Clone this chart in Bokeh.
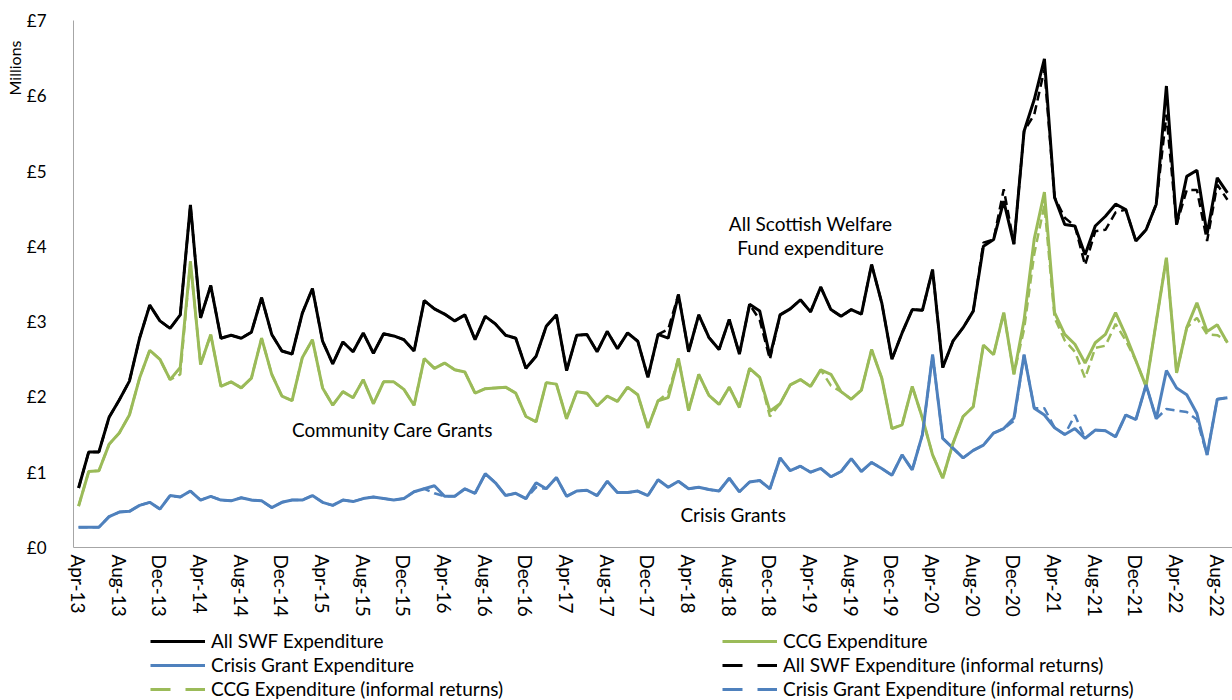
from bokeh.plotting import figure
from bokeh.layouts import column
from bokeh.models import FixedTicker, Legend, LegendItem, Label, Title
from bokeh.embed import file_html
from bokeh.resources import INLINE

# ---------------- data (£ millions, monthly Apr-13 .. Sep-22) ----------------
tick_labels = ["Apr-13", "Aug-13", "Dec-13", "Apr-14", "Aug-14", "Dec-14", "Apr-15", "Aug-15",
               "Dec-15", "Apr-16", "Aug-16", "Dec-16", "Apr-17", "Aug-17", "Dec-17", "Apr-18",
               "Aug-18", "Dec-18", "Apr-19", "Aug-19", "Dec-19", "Apr-20", "Aug-20", "Dec-20",
               "Apr-21", "Aug-21", "Dec-21", "Apr-22", "Aug-22"]
y_tick_labels = ["£0", "£1", "£2", "£3", "£4", "£5", "£6", "£7"]

all_swf = [0.79, 1.27, 1.27, 1.73, 1.96, 2.21, 2.78, 3.22, 3.01, 2.91,
           3.09, 4.55, 3.05, 3.48, 2.78, 2.82, 2.78, 2.86, 3.32, 2.83,
           2.61, 2.57, 3.11, 3.44, 2.74, 2.44, 2.73, 2.60, 2.85, 2.58,
           2.84, 2.81, 2.76, 2.61, 3.28, 3.17, 3.10, 3.01, 3.09, 2.76,
           3.07, 2.97, 2.82, 2.78, 2.38, 2.54, 2.94, 3.09, 2.35, 2.82,
           2.83, 2.60, 2.87, 2.64, 2.85, 2.74, 2.26, 2.83, 2.78, 3.36,
           2.60, 3.09, 2.79, 2.63, 3.03, 2.57, 3.23, 3.14, 2.54, 3.09,
           3.17, 3.29, 3.13, 3.46, 3.16, 3.07, 3.16, 3.10, 3.76, 3.25,
           2.50, 2.85, 3.16, 3.15, 3.69, 2.39, 2.74, 2.92, 3.14, 4.00,
           4.09, 4.60, 4.03, 5.53, 5.95, 6.49, 4.65, 4.29, 4.27, 3.89,
           4.27, 4.40, 4.56, 4.49, 4.07, 4.22, 4.56, 6.13, 4.29, 4.93,
           5.01, 4.16, 4.91, 4.71]

ccg = [0.55, 1.01, 1.02, 1.37, 1.52, 1.76, 2.25, 2.62, 2.50, 2.23,
       2.39, 3.80, 2.43, 2.83, 2.14, 2.20, 2.12, 2.25, 2.78, 2.30,
       2.01, 1.95, 2.52, 2.76, 2.12, 1.89, 2.07, 1.99, 2.23, 1.91,
       2.20, 2.20, 2.10, 1.89, 2.51, 2.38, 2.45, 2.36, 2.33, 2.05,
       2.11, 2.12, 2.13, 2.05, 1.74, 1.67, 2.19, 2.17, 1.71, 2.07,
       2.05, 1.88, 2.01, 1.94, 2.13, 2.03, 1.59, 1.95, 1.99, 2.51,
       1.82, 2.30, 2.02, 1.90, 2.13, 1.86, 2.38, 2.26, 1.81, 1.91,
       2.16, 2.23, 2.14, 2.36, 2.30, 2.07, 1.97, 2.09, 2.63, 2.25,
       1.58, 1.63, 2.14, 1.72, 1.23, 0.92, 1.38, 1.74, 1.87, 2.69,
       2.56, 3.12, 2.30, 3.02, 4.10, 4.72, 3.12, 2.83, 2.70, 2.45,
       2.72, 2.83, 3.12, 2.82, 2.48, 2.14, 3.00, 3.85, 2.32, 2.92,
       3.25, 2.87, 2.96, 2.72]

crisis = [0.27, 0.27, 0.27, 0.41, 0.47, 0.48, 0.56, 0.60, 0.51, 0.69,
          0.67, 0.75, 0.63, 0.68, 0.63, 0.62, 0.66, 0.63, 0.62, 0.53,
          0.60, 0.63, 0.63, 0.69, 0.60, 0.56, 0.63, 0.61, 0.65, 0.67,
          0.65, 0.63, 0.65, 0.74, 0.78, 0.82, 0.68, 0.68, 0.78, 0.72,
          0.98, 0.86, 0.69, 0.72, 0.65, 0.86, 0.78, 0.93, 0.68, 0.75,
          0.76, 0.69, 0.88, 0.73, 0.73, 0.75, 0.69, 0.90, 0.80, 0.88,
          0.78, 0.80, 0.77, 0.75, 0.92, 0.74, 0.87, 0.89, 0.78, 1.19,
          1.02, 1.08, 1.00, 1.05, 0.94, 1.01, 1.18, 1.01, 1.13, 1.05,
          0.96, 1.23, 1.03, 1.50, 2.56, 1.45, 1.32, 1.19, 1.29, 1.36,
          1.52, 1.58, 1.72, 2.56, 1.85, 1.76, 1.59, 1.50, 1.58, 1.45,
          1.56, 1.55, 1.47, 1.76, 1.70, 2.16, 1.71, 2.35, 2.12, 2.03,
          1.78, 1.23, 1.97, 1.99]

all_swf_inf = [0.79, 1.27, 1.27, 1.73, 1.96, 2.21, 2.78, 3.22, 3.01, 2.91,
               3.09, 4.55, 3.05, 3.48, 2.78, 2.82, 2.78, 2.86, 3.32, 2.83,
               2.61, 2.57, 3.11, 3.44, 2.74, 2.44, 2.73, 2.60, 2.85, 2.58,
               2.84, 2.81, 2.76, 2.61, 3.28, 3.17, 3.10, 3.01, 3.09, 2.76,
               3.07, 2.97, 2.82, 2.78, 2.38, 2.54, 2.94, 3.09, 2.35, 2.82,
               2.83, 2.60, 2.87, 2.64, 2.85, 2.74, 2.26, 2.83, 2.90, 3.36,
               2.60, 3.09, 2.79, 2.63, 3.03, 2.57, 3.23, 3.02, 2.50, 3.09,
               3.17, 3.29, 3.13, 3.46, 3.16, 3.07, 3.16, 3.10, 3.76, 3.25,
               2.50, 2.85, 3.16, 3.15, 3.69, 2.39, 2.74, 2.92, 3.14, 4.05,
               4.09, 4.76, 4.03, 5.53, 5.75, 6.35, 4.65, 4.38, 4.27, 3.75,
               4.20, 4.22, 4.45, 4.49, 4.07, 4.22, 4.56, 5.75, 4.29, 4.75,
               4.75, 4.07, 4.82, 4.62]

ccg_inf = [0.55, 1.01, 1.02, 1.37, 1.52, 1.76, 2.25, 2.62, 2.50, 2.23,
           2.30, 3.80, 2.43, 2.83, 2.14, 2.20, 2.12, 2.25, 2.78, 2.30,
           2.01, 1.95, 2.52, 2.76, 2.12, 1.89, 2.07, 1.99, 2.23, 1.91,
           2.20, 2.20, 2.10, 1.89, 2.51, 2.38, 2.45, 2.36, 2.33, 2.05,
           2.11, 2.12, 2.13, 2.05, 1.74, 1.67, 2.19, 2.17, 1.71, 2.07,
           2.05, 1.88, 2.01, 1.94, 2.13, 2.03, 1.59, 1.95, 2.06, 2.51,
           1.82, 2.30, 2.02, 1.90, 2.13, 1.86, 2.38, 2.26, 1.74, 1.91,
           2.16, 2.23, 2.14, 2.36, 2.15, 2.07, 1.97, 2.09, 2.63, 2.25,
           1.58, 1.63, 2.14, 1.72, 1.23, 0.92, 1.38, 1.74, 1.87, 2.69,
           2.56, 3.12, 2.30, 2.90, 3.90, 4.55, 3.05, 2.75, 2.60, 2.25,
           2.65, 2.68, 2.97, 2.75, 2.48, 2.14, 3.00, 3.85, 2.32, 2.92,
           3.05, 2.83, 2.82, 2.74]

crisis_inf = [0.27, 0.27, 0.27, 0.41, 0.47, 0.48, 0.56, 0.60, 0.51, 0.69,
              0.67, 0.75, 0.63, 0.68, 0.63, 0.62, 0.66, 0.63, 0.62, 0.53,
              0.60, 0.63, 0.63, 0.69, 0.60, 0.56, 0.63, 0.61, 0.65, 0.67,
              0.65, 0.63, 0.65, 0.74, 0.78, 0.72, 0.68, 0.68, 0.78, 0.72,
              0.98, 0.86, 0.69, 0.72, 0.65, 0.80, 0.78, 0.93, 0.68, 0.75,
              0.76, 0.69, 0.88, 0.73, 0.73, 0.75, 0.69, 0.90, 0.80, 0.88,
              0.78, 0.80, 0.77, 0.75, 0.92, 0.74, 0.87, 0.89, 0.78, 1.19,
              1.02, 1.08, 1.00, 1.05, 0.94, 1.01, 1.18, 1.01, 1.13, 1.05,
              0.96, 1.23, 1.03, 1.50, 2.56, 1.45, 1.32, 1.19, 1.29, 1.36,
              1.52, 1.58, 1.68, 2.56, 1.85, 1.85, 1.59, 1.50, 1.76, 1.45,
              1.56, 1.55, 1.47, 1.76, 1.70, 2.16, 1.71, 1.84, 1.82, 1.80,
              1.70, 1.23, 1.97, 1.99]

month_idx = list(range(len(all_swf)))
tick_idx = list(range(0, len(all_swf), 4))

FONT = "Lato"
BLACK, GREEN, BLUE = "#000000", "#9BBB59", "#4F81BD"
DASH = "9 5"
LEGEND_DASH = "20 15"

# ---------------- main chart ----------------
p = figure(width=1232, height=622, output_backend="svg", toolbar_location=None,
           x_range=(-0.5, len(all_swf) - 0.5), y_range=(0, 7),
           min_border_left=73, min_border_right=0, min_border_top=20,
           min_border_bottom=75)
p.outline_line_color = None
p.xgrid.visible = False
p.ygrid.visible = False

p.xaxis.ticker = FixedTicker(ticks=tick_idx)
p.xaxis.major_label_overrides = {t: lab for t, lab in zip(tick_idx, tick_labels)}
p.xaxis.major_label_orientation = "vertical"
p.xaxis.major_label_text_font = FONT
p.xaxis.major_label_text_font_size = "19px"
p.xaxis.major_label_text_color = "#000000"
p.xaxis.major_label_standoff = 7
p.xaxis.major_tick_out = 0
p.xaxis.major_tick_in = 0
p.xaxis.minor_tick_out = 0
p.xaxis.minor_tick_in = 0
p.xaxis.axis_line_color = "#A6A6A6"

p.yaxis.ticker = FixedTicker(ticks=list(range(len(y_tick_labels))))
p.yaxis.major_label_overrides = {i: lab for i, lab in enumerate(y_tick_labels)}
p.yaxis.major_label_text_font = FONT
p.yaxis.major_label_text_font_size = "17px"
p.yaxis.major_label_text_color = "#000000"
p.yaxis.major_label_standoff = 27
p.yaxis.major_tick_out = 0
p.yaxis.major_tick_in = 0
p.yaxis.minor_tick_out = 0
p.yaxis.minor_tick_in = 0
p.yaxis.axis_line_color = "#A6A6A6"

p.add_layout(Title(text="Millions", align="right", text_font=FONT, text_font_size="16px",
                   text_font_style="normal", text_color="#000000", offset=20, standoff=0), "left")

p.line(month_idx, all_swf, line_color=BLACK, line_width=3)
p.line(month_idx, ccg, line_color=GREEN, line_width=3)
p.line(month_idx, crisis, line_color=BLUE, line_width=3)
p.line(month_idx, all_swf_inf, line_color=BLACK, line_width=2.5, line_dash=DASH)
p.line(month_idx, ccg_inf, line_color=GREEN, line_width=2.5, line_dash=DASH)
p.line(month_idx, crisis_inf, line_color=BLUE, line_width=2.5, line_dash=DASH)

for txt, x, y, align in [("All Scottish Welfare", 72, 4.30, "center"),
                         ("Fund expenditure", 72, 3.98, "center"),
                         ("Community Care Grants", 21, 1.57, "left"),
                         ("Crisis Grants", 59.2, 0.44, "left")]:
    p.add_layout(Label(x=x, y=y, text=txt, text_font=FONT, text_font_size="19px",
                       text_align=align, text_baseline="middle", text_color="#000000"))

# ---------------- legend strip ----------------
leg = figure(width=1232, height=78, output_backend="svg", toolbar_location=None,
             x_range=(0, 1), y_range=(0, 1), x_axis_type=None, y_axis_type=None,
             min_border=0)
leg.outline_line_color = None
leg.xgrid.visible = False
leg.ygrid.visible = False

styles = {
    "All SWF Expenditure": (BLACK, 3, "solid"),
    "CCG Expenditure": (GREEN, 3, "solid"),
    "Crisis Grant Expenditure": (BLUE, 3, "solid"),
    "All SWF Expenditure (informal returns)": (BLACK, 3, LEGEND_DASH),
    "CCG Expenditure (informal returns)": (GREEN, 3, LEGEND_DASH),
    "Crisis Grant Expenditure (informal returns)": (BLUE, 3, LEGEND_DASH),
}
# legend sample renderers (kept outside the visible range of this strip)
rend = {name: leg.line([0, 1], [-5, -5], line_color=c, line_width=w, line_dash=d)
        for name, (c, w, d) in styles.items()}

def make_legend(names, x):
    return Legend(items=[LegendItem(label=n, renderers=[rend[n]]) for n in names],
                  location=(x, 0), orientation="vertical",
                  label_text_font=FONT, label_text_font_size="19px", label_text_color="#000000",
                  glyph_width=55, glyph_height=20, label_height=20, label_standoff=6,
                  spacing=1, padding=0, margin=0,
                  border_line_alpha=0, background_fill_alpha=0)

leg.add_layout(make_legend(["All SWF Expenditure", "Crisis Grant Expenditure",
                            "CCG Expenditure (informal returns)"], 77))
leg.add_layout(make_legend(["CCG Expenditure", "All SWF Expenditure (informal returns)",
                            "Crisis Grant Expenditure (informal returns)"], 649))

layout = column(p, leg, spacing=0)
open("out.html", "w").write(file_html(layout, INLINE))
